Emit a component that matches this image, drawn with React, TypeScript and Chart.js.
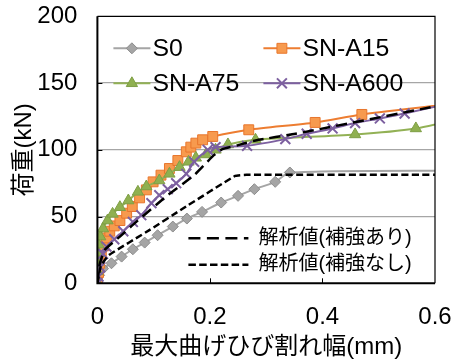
import React, { useEffect, useRef } from "react";
import { Chart, registerables } from "chart.js";

Chart.register(...registerables);

// ---- data ----
const S0_X = [0, 0.003, 0.01, 0.025, 0.043, 0.063, 0.084, 0.107, 0.134, 0.159, 0.186, 0.22, 0.25, 0.279, 0.316, 0.342, 0.65];
const S0_Y = [0, 6, 11, 15, 20, 25.5, 30.5, 36, 42.5, 48.5, 53.5, 60.5, 65.5, 70.5, 76, 83, 84.5];

const A15_X = [0, 0.002, 0.004, 0.007, 0.011, 0.016, 0.022, 0.03, 0.04, 0.052, 0.062, 0.075, 0.087, 0.099, 0.113, 0.128, 0.143, 0.158, 0.166, 0.175, 0.187, 0.205, 0.269, 0.387, 0.47, 0.64];
const A15_Y = [0, 8, 15, 22, 28, 34, 39, 43, 47, 52.5, 57.5, 64, 70, 76, 81, 86, 92, 98.5, 102, 105, 107.5, 110, 115, 120.5, 126.5, 135];

const A75_X = [0, 0, 0.0005, 0.001, 0.002, 0.005, 0.01, 0.018, 0.027, 0.04, 0.055, 0.072, 0.087, 0.11, 0.128, 0.146, 0.162, 0.175, 0.193, 0.21, 0.232, 0.281, 0.458, 0.566, 0.64];
const A75_Y = [0, 9, 16, 23, 29, 35, 41, 47, 52, 57, 62, 68.5, 72.5, 77, 82, 87, 91, 94, 96.5, 100, 104, 107.5, 111.5, 116, 123];

const A600_X = [0, 0.002, 0.005, 0.01, 0.016, 0.03, 0.046, 0.063, 0.078, 0.096, 0.11, 0.125, 0.14, 0.158, 0.172, 0.196, 0.21, 0.266, 0.334, 0.372, 0.418, 0.458, 0.502, 0.546, 0.64];
const A600_Y = [0, 5, 12, 22, 27.5, 33, 39, 46, 51, 60, 66, 70.5, 75, 82, 91, 100, 102, 103, 108, 112, 116, 120, 123.5, 127.2, 136];

const ANA_R_X = [0, 0.004, 0.013, 0.04, 0.069, 0.122, 0.172, 0.193, 0.207, 0.222, 0.25, 0.281, 0.352, 0.6];
const ANA_R_Y = [0, 14, 25, 35, 46, 65, 81, 90, 96, 100.5, 103.5, 107, 112, 132.5];

const ANA_N_X = [0, 0.006, 0.02, 0.093, 0.152, 0.245, 0.265, 0.6];
const ANA_N_Y = [0, 13, 21, 40, 56, 80.5, 81.3, 81.3];

const SERIES_NAMES = ["S0", "SN-A15", "SN-A75", "SN-A600"];
const ANALYSIS_NAMES = ["解析値(補強あり)", "解析値(補強なし)"];
const X_TITLE = "最大曲げひび割れ幅(mm)";
const Y_TITLE = "荷重(kN)";

const FONT = '"Liberation Sans", Arial, "Noto Sans CJK JP", sans-serif';

const pts = (xs: number[], ys: number[]) => xs.map((x, i) => ({ x, y: ys[i] }));

const STYLES = [
  { line: "#A5A5A5", fill: "#A5A5A5", stroke: "#8C8C8C", shape: "rectRot", r: 5.5 },
  { line: "#ED7D31", fill: "#F79A4E", stroke: "#E8762D", shape: "rect", r: 7 },
  { line: "#92B155", fill: "#8FB050", stroke: "#7E9E45", shape: "triangle", r: 6.5 },
  { line: "#7D60A0", fill: "#7D60A0", stroke: "#7D60A0", shape: "crossRot", r: 7 },
];

function drawMarker(ctx: CanvasRenderingContext2D, shape: string, x: number, y: number, r: number, fill: string, stroke: string) {
  ctx.save();
  ctx.fillStyle = fill;
  ctx.strokeStyle = stroke;
  ctx.lineWidth = shape === "crossRot" ? 2 : 1;
  ctx.setLineDash([]);
  ctx.beginPath();
  if (shape === "rectRot") {
    ctx.moveTo(x, y - r);
    ctx.lineTo(x + r, y);
    ctx.lineTo(x, y + r);
    ctx.lineTo(x - r, y);
    ctx.closePath();
    ctx.fill();
    ctx.stroke();
  } else if (shape === "rect") {
    const s = r * Math.SQRT1_2;
    ctx.rect(x - s, y - s, 2 * s, 2 * s);
    ctx.fill();
    ctx.stroke();
  } else if (shape === "triangle") {
    for (let i = 0; i < 3; i++) {
      const a = (i * 2 * Math.PI) / 3;
      const px = x + Math.sin(a) * r;
      const py = y - Math.cos(a) * r;
      if (i === 0) ctx.moveTo(px, py);
      else ctx.lineTo(px, py);
    }
    ctx.closePath();
    ctx.fill();
    ctx.stroke();
  } else {
    const d = r * Math.SQRT1_2;
    ctx.moveTo(x - d, y - d);
    ctx.lineTo(x + d, y + d);
    ctx.moveTo(x + d, y - d);
    ctx.lineTo(x - d, y + d);
    ctx.stroke();
  }
  ctx.restore();
}

function stretchedText(ctx: CanvasRenderingContext2D, text: string, x: number, y: number, sx: number) {
  ctx.save();
  ctx.translate(x, y);
  ctx.scale(sx, 1);
  ctx.fillText(text, 0, 0);
  ctx.restore();
}

const framePlugin = {
  id: "frameAndLegends",
  afterDraw(chart: any) {
    const ctx: CanvasRenderingContext2D = chart.ctx;
    const { left, right, top, bottom } = chart.chartArea;
    const xs = chart.scales.x;
    const ys = chart.scales.y;
    ctx.save();
    ctx.strokeStyle = "#000";
    ctx.lineWidth = 1.2;
    ctx.beginPath();
    ctx.moveTo(left, top);
    ctx.lineTo(right, top);
    ctx.lineTo(right, bottom);
    ctx.stroke();
    ctx.lineWidth = 1;
    ctx.beginPath();
    [0.2, 0.4].forEach((v) => {
      const px = Math.round(xs.getPixelForValue(v)) + 0.5;
      ctx.moveTo(px, bottom);
      ctx.lineTo(px, bottom - 5);
    });
    [50, 100, 150].forEach((v) => {
      const py = Math.round(ys.getPixelForValue(v)) + 0.5;
      ctx.moveTo(left, py);
      ctx.lineTo(left + 5, py);
    });
    ctx.stroke();
    ctx.lineWidth = 2;
    ctx.beginPath();
    ctx.moveTo(left, top);
    ctx.lineTo(left, bottom);
    ctx.lineTo(right, bottom);
    ctx.stroke();

    // main legend (2 columns x 2 rows)
    ctx.font = `23px ${FONT}`;
    ctx.textBaseline = "middle";
    ctx.textAlign = "left";
    ctx.fillStyle = "#000";
    const colX = [left + 16, left + 166];
    const rowY = [top + 32, top + 67];
    SERIES_NAMES.forEach((name, i) => {
      const st = STYLES[i];
      const x0 = colX[i % 2];
      const y0 = rowY[Math.floor(i / 2)];
      ctx.strokeStyle = st.line;
      ctx.lineWidth = 2;
      ctx.setLineDash([]);
      ctx.beginPath();
      ctx.moveTo(x0, y0);
      ctx.lineTo(x0 + 37, y0);
      ctx.stroke();
      drawMarker(ctx, st.shape, x0 + 18.5, y0, st.r, st.fill, st.stroke);
      ctx.fillStyle = "#000";
      stretchedText(ctx, name, x0 + 39, y0 + 1, 1.08);
    });

    // analysis legend
    ctx.font = `20px ${FONT}`;
    const ax = left + 91;
    const ay = [bottom - 45, bottom - 18.5];
    const dashes = [[12, 6.5], [7.5, 3.3]];
    ANALYSIS_NAMES.forEach((name, i) => {
      ctx.strokeStyle = "#000";
      ctx.lineWidth = 2.5;
      ctx.setLineDash(dashes[i]);
      ctx.beginPath();
      ctx.moveTo(ax, ay[i]);
      ctx.lineTo(ax + 60, ay[i]);
      ctx.stroke();
      ctx.setLineDash([]);
      ctx.fillStyle = "#000";
      ctx.fillText(name, ax + 70, ay[i]);
    });
    ctx.restore();
  },
};

const zeroPad = (s: any) => {
  s.paddingTop = 0;
  s.paddingBottom = 0;
  s.paddingLeft = 0;
  s.paddingRight = 0;
};

export default function App() {
  const ref = useRef<HTMLCanvasElement | null>(null);
  useEffect(() => {
    if (!ref.current) return;
    const mk = (i: number, xs: number[], ys: number[]) => ({
      label: SERIES_NAMES[i],
      data: pts(xs, ys),
      borderColor: STYLES[i].line,
      borderWidth: 2,
      pointStyle: STYLES[i].shape,
      pointRadius: STYLES[i].r,
      pointBackgroundColor: STYLES[i].fill,
      pointBorderColor: STYLES[i].stroke,
      pointBorderWidth: STYLES[i].shape === "crossRot" ? 2 : 1,
      tension: 0.25,
      order: 4 - i,
    });
    const chart = new Chart(ref.current, {
      type: "line",
      data: {
        datasets: [
          mk(0, S0_X, S0_Y),
          mk(1, A15_X, A15_Y),
          mk(2, A75_X, A75_Y),
          mk(3, A600_X, A600_Y),
          {
            label: ANALYSIS_NAMES[0],
            data: pts(ANA_R_X, ANA_R_Y),
            borderColor: "#000",
            borderWidth: 2.5,
            borderDash: [11, 6],
            pointRadius: 0,
            tension: 0.15,
            order: 0,
          },
          {
            label: ANALYSIS_NAMES[1],
            data: pts(ANA_N_X, ANA_N_Y),
            borderColor: "#000",
            borderWidth: 2.5,
            borderDash: [7, 3.5],
            pointRadius: 0,
            tension: 0.1,
            order: 0,
          },
        ] as any,
      },
      options: {
        responsive: false,
        animation: false,
        devicePixelRatio: 1,
        layout: { padding: { top: 16.3, right: 24, left: 0, bottom: 0 } },
        plugins: { legend: { display: false }, tooltip: { enabled: false } },
        scales: {
          x: {
            type: "linear",
            min: 0,
            max: 0.6,
            grid: { display: false, drawTicks: false },
            border: { display: false },
            ticks: {
              stepSize: 0.2,
              color: "#000",
              padding: 20,
              font: { family: FONT, size: 24 },
              maxRotation: 0,
              callback: (v: any) => (Number(v) === 0 ? "0" : Number(v).toFixed(1)),
            },
            title: {
              display: true,
              text: X_TITLE,
              color: "#000",
              font: { family: FONT, size: 24 },
              padding: { top: 0, bottom: 0 },
            },
            afterFit: (s: any) => {
              s.height = 78.7;
              zeroPad(s);
            },
          },
          y: {
            type: "linear",
            min: 0,
            max: 200,
            grid: {
              drawTicks: false,
              lineWidth: 1.3,
              color: (c: any) => (c.tick && (c.tick.value === 0 || c.tick.value === 200) ? "rgba(0,0,0,0)" : "#A6A6A6"),
            },
            border: { display: false },
            ticks: {
              stepSize: 50,
              color: "#000",
              padding: 20,
              font: { family: FONT, size: 24 },
            },
            title: {
              display: true,
              text: Y_TITLE,
              color: "#000",
              font: { family: FONT, size: 24 },
              padding: { top: 10, bottom: 0 },
            },
            afterFit: (s: any) => {
              s.width = 97.4;
              zeroPad(s);
            },
          },
        },
      } as any,
      plugins: [framePlugin],
    });
    return () => chart.destroy();
  }, []);
  return (
    <div style={{ position: "fixed", left: 0, top: 0, width: 459, height: 362, background: "#fff" }}>
      <canvas ref={ref} width={459} height={362} style={{ display: "block" }} />
    </div>
  );
}
